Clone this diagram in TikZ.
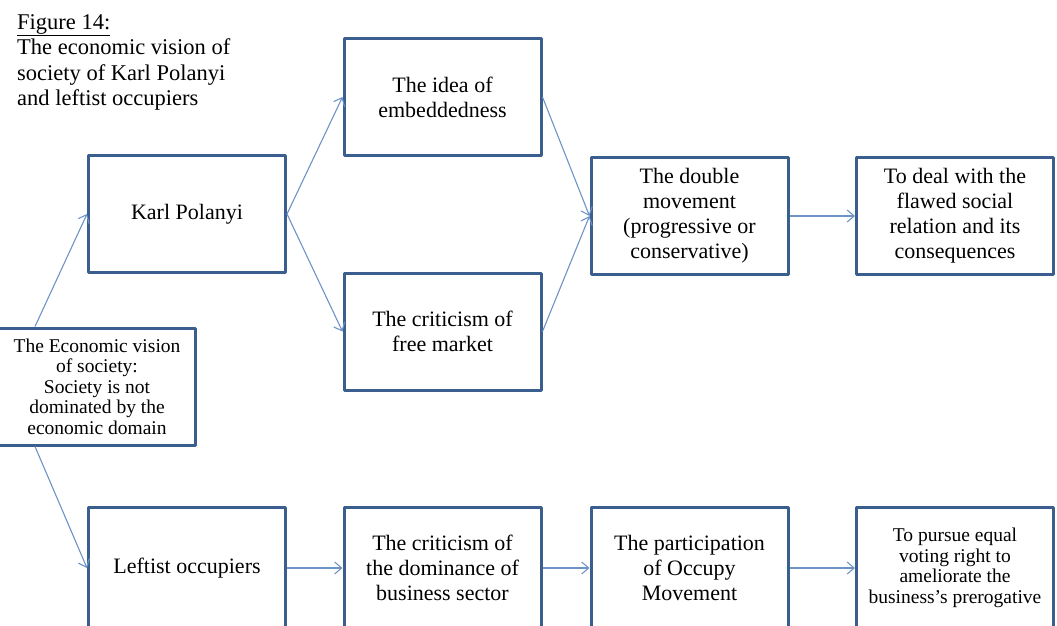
\documentclass[tikz,border=0pt]{standalone}
\usepackage{fontspec}
\setmainfont{Liberation Serif}
\usetikzlibrary{arrows.meta,calc}
\definecolor{boxblue}{HTML}{3A5F8E}
\definecolor{arrblue}{HTML}{6E93C6}
\begin{document}
\begin{tikzpicture}[x=1pt,y=-1pt, line join=round,
	box/.style={draw=boxblue, line width=3pt, minimum width=197pt, minimum height=117pt, align=center, inner sep=2pt, font=\fontsize{22}{25}\selectfont},
	smallbox/.style={box, font=\fontsize{19.5}{20.5}\selectfont},
	lowbox/.style={minimum height=121pt},
	arr/.style={draw=arrblue, line width=1.1pt, -{Straight Barb[length=7pt,width=12pt,line width=1.1pt]}}]
	\useasboundingbox (0,0) rectangle (1057,625);
	% title
	\node[anchor=north west, align=left, inner sep=0pt, font=\fontsize{22.5}{25.5}\selectfont] (title) at (17,14) {\underline{Figure 14:}\\The economic vision of\\society of Karl Polanyi\\and leftist occupiers};
	% upper row
	\node[box] (kp) at (187,214) {Karl Polanyi};
	\node[box] (idea) at (442.5,97) {The idea of\\embeddedness};
	\node[box] (crit) at (442.5,331.5) {The criticism of\\free market};
	\node[box] (dbl) at (689.5,216) {The double\\movement\\(progressive or\\conservative)};
	\node[box] (deal) at (955,216) {To deal with the\\flawed social\\relation and its\\consequences};
	% root
	\node[smallbox] (eco) at (97,386.5) {The Economic vision\\of society:\\Society is not\\dominated by the\\economic domain};
	% lower row (cut off at the bottom edge)
	\node[box,lowbox] (left) at (187,568) {Leftist occupiers};
	\node[box,lowbox] (dom) at (442.5,568) {The criticism of\\the dominance of\\business sector};
	\node[box,lowbox] (part) at (689.5,568) {The participation\\of Occupy\\Movement};
	\node[smallbox,lowbox] (pursue) at (955,568) {To pursue equal\\voting right to\\ameliorate the\\business's prerogative};
	% connectors
	\draw[arr] ($(eco.north west)!0.19!(eco.north east)$) -- (kp.west);
	\draw[arr] ($(eco.south west)!0.19!(eco.south east)$) -- (left.west);
	\draw[arr] (kp.east) -- (idea.west);
	\draw[arr] (kp.east) -- (crit.west);
	\draw[arr] (idea.east) -- (dbl.west);
	\draw[arr] (crit.east) -- (dbl.west);
	\draw[arr] (dbl.east) -- (deal.west);
	\draw[arr] (left.east) -- (dom.west);
	\draw[arr] (dom.east) -- (part.west);
	\draw[arr] (part.east) -- (pursue.west);
\end{tikzpicture}
\end{document}
